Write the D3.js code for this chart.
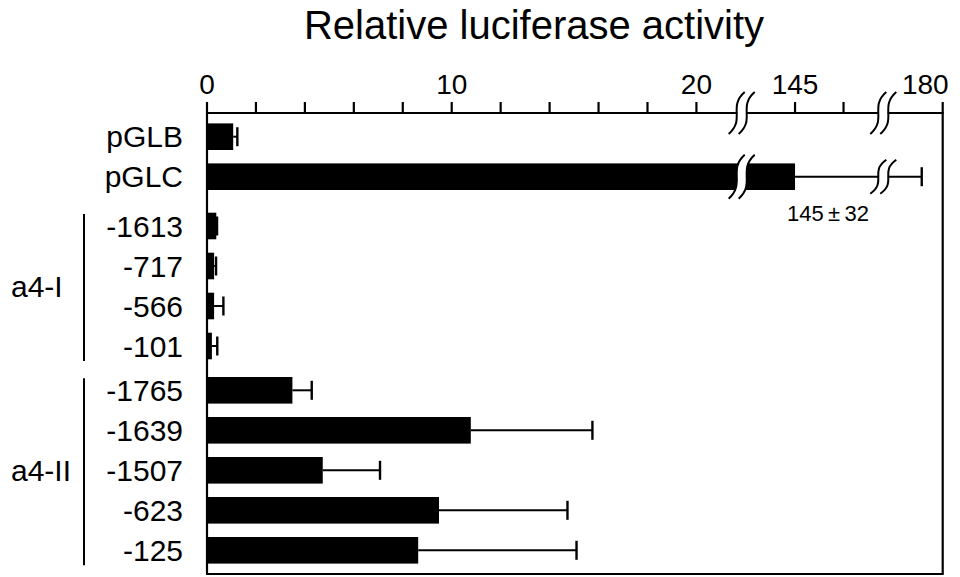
<html>
<head>
	<meta charset="utf-8">
	<title>relative luciferase activity</title>
	<script src="https://d3js.org/d3.v7.min.js"></script>
	<style>
		body {
			margin: 0;
			background: #fff;
		}
		text {
			font-family: Arial, "Liberation Sans", Helvetica, sans-serif;
			fill: #000;
		}
		.frame line, .axis line {
			stroke: #000;
			stroke-width: 2.2px;
		}
		.err line {
			stroke: #000;
			stroke-width: 2px;
		}
	</style>
</head>
<body>
	<svg id="chart" width="960" height="577"></svg>
</body>
<script>

//
// Data
//

var rowLabels = ["pGLB", "pGLC", "-1613", "-717", "-566", "-101", "-1765", "-1639", "-1507", "-623", "-125"];
var rowGroups = [0, 0, 1, 1, 1, 1, 2, 2, 2, 2, 2];
var means = [1.07, 145, 0.38, 0.29, 0.29, 0.20, 3.49, 10.78, 4.73, 9.48, 8.63];
var errors = [0.17, 32, 0.03, 0.08, 0.38, 0.22, 0.79, 4.97, 2.34, 5.25, 6.47];
var groupNames = ["", "a4-I", "a4-II"];
var tickValues = [0, 2, 4, 6, 8, 10, 12, 14, 16, 18, 20, 145, 150, 180];
var tickLabels = [0, 10, 20, 145, 180];
var axisBreaks = [21.85, 171.5];	// values where the axis is cut
var titleText = "Relative luciferase activity";
var noteText = "145\u2009\u00b1\u200932";

//
// Layout
//

var svg = d3.select("#chart");
var plotL = 207, plotR = 942.7, plotT = 113, plotB = 574;
var rowStep = 40, barH = 26.6;
var groupShift = [0, 9.3, 13.6];

// Broken scale: three pieces joined at the breaks
var x = d3.scaleLinear()
	.domain([0, 21.85, 139.5, 154.1, 171.5, 180])
	.range([plotL, 741.7, 741.7, 883.3, 883.3, plotR]);

function rowY(i) {
	return 136.7 + i * rowStep + groupShift[rowGroups[i]];
}

var rows = rowLabels.map(function(d, i) {
	return { label: d, group: rowGroups[i], mean: means[i], err: errors[i], y: rowY(i) };
});

// Title
svg.append("text")
	.attr("x", 534)
	.attr("y", 38.5)
	.attr("text-anchor", "middle")
	.style("font-size", "40px")
	.text(titleText);

// Bars
var barG = svg.append("g").attr("class", "bars");
barG.selectAll("rect")
	.data(rows)
	.enter().append("rect")
		.attr("x", plotL)
		.attr("y", function(d) { return d.y - barH / 2; })
		.attr("width", function(d) { return x(d.mean) - plotL; })
		.attr("height", barH)
		.attr("fill", "#000");

// Error bars
var errG = svg.append("g").attr("class", "err");
errG.selectAll(".whisker")
	.data(rows)
	.enter().append("line")
		.attr("class", "whisker")
		.attr("x1", function(d) { return x(d.mean); })
		.attr("x2", function(d) { return x(d.mean + d.err); })
		.attr("y1", function(d) { return d.y; })
		.attr("y2", function(d) { return d.y; });
errG.selectAll(".cap")
	.data(rows)
	.enter().append("line")
		.attr("class", "cap")
		.attr("x1", function(d) { return x(d.mean + d.err); })
		.attr("x2", function(d) { return x(d.mean + d.err); })
		.attr("y1", function(d) { return d.y - 9.5; })
		.attr("y2", function(d) { return d.y + 9.5; })
		.style("stroke-width", "2.4px");

// Frame
var frameG = svg.append("g").attr("class", "frame");
frameG.append("line").attr("x1", plotL).attr("x2", plotL).attr("y1", plotT).attr("y2", plotB);
frameG.append("line").attr("x1", plotR).attr("x2", plotR).attr("y1", plotT).attr("y2", plotB);
frameG.append("line").attr("x1", plotL - 1).attr("x2", plotR + 1).attr("y1", plotB).attr("y2", plotB);

// Top axis
var axisG = svg.append("g").attr("class", "axis");
axisG.append("line").attr("x1", plotL - 1).attr("x2", plotR + 1).attr("y1", plotT).attr("y2", plotT);
axisG.selectAll(".tick")
	.data(tickValues)
	.enter().append("line")
		.attr("class", "tick")
		.attr("x1", function(d) { return x(d); })
		.attr("x2", function(d) { return x(d); })
		.attr("y1", plotT - 11)
		.attr("y2", plotT);
axisG.selectAll(".tlabel")
	.data(tickLabels)
	.enter().append("text")
		.attr("class", "tlabel")
		.attr("x", function(d, i) { return i === tickLabels.length - 1 ? x(d) + 6 : x(d); })
		.attr("y", 93.5)
		.attr("text-anchor", function(d, i) { return i === tickLabels.length - 1 ? "end" : "middle"; })
		.style("font-size", "28px")
		.text(function(d) { return d; });

// Break marks: white gap between two wavy strokes
function sCurve(cx, cy, h) {
	var k = h / 2;
	return "M" + (cx - 8) + "," + (cy + k) +
		" C" + (cx + 9) + "," + (cy + k * 0.3) + " " + (cx - 9) + "," + (cy - k * 0.3) + " " + (cx + 8) + "," + (cy - k);
}

function drawBreak(cx, cy, h) {
	var g = svg.append("g").attr("class", "brk");
	g.append("path")
		.attr("d", sCurve(cx, cy, h))
		.attr("fill", "none")
		.attr("stroke", "#fff")
		.attr("stroke-width", 9);
	[-5, 5].forEach(function(dx) {
		g.append("path")
			.attr("d", sCurve(cx + dx, cy, h))
			.attr("fill", "none")
			.attr("stroke", "#000")
			.attr("stroke-width", 2);
	});
}

axisBreaks.forEach(function(b) {
	drawBreak(x(b), plotT, 42);
});
// breaks on the pGLC bar and its error bar
drawBreak(x(axisBreaks[0]), rows[1].y, 44);
drawBreak(x(axisBreaks[1]), rows[1].y, 34);

// Value note under pGLC
svg.append("text")
	.attr("x", 828)
	.attr("y", 220.5)
	.attr("text-anchor", "middle")
	.style("font-size", "22px")
	.text(noteText);

// Row labels
svg.append("g").selectAll("text")
	.data(rows)
	.enter().append("text")
		.attr("x", 183)
		.attr("y", function(d) { return d.y + 10.5; })
		.attr("text-anchor", "end")
		.style("font-size", "30px")
		.text(function(d) { return d.label; });

// Group brackets and names
var groupG = svg.append("g").attr("class", "groups");
groupNames.forEach(function(name, g) {
	if (!name) return;
	var members = rows.filter(function(d) { return d.group === g; });
	var y0 = members[0].y - 12;
	var y1 = members[members.length - 1].y + 15;
	groupG.append("line")
		.attr("x1", 84).attr("x2", 84)
		.attr("y1", y0).attr("y2", y1)
		.attr("stroke", "#000")
		.attr("stroke-width", 2);
	groupG.append("text")
		.attr("x", 11)
		.attr("y", (members[0].y + members[members.length - 1].y) / 2 + 11)
		.style("font-size", "30px")
		.text(name);
});

</script>
</html>
